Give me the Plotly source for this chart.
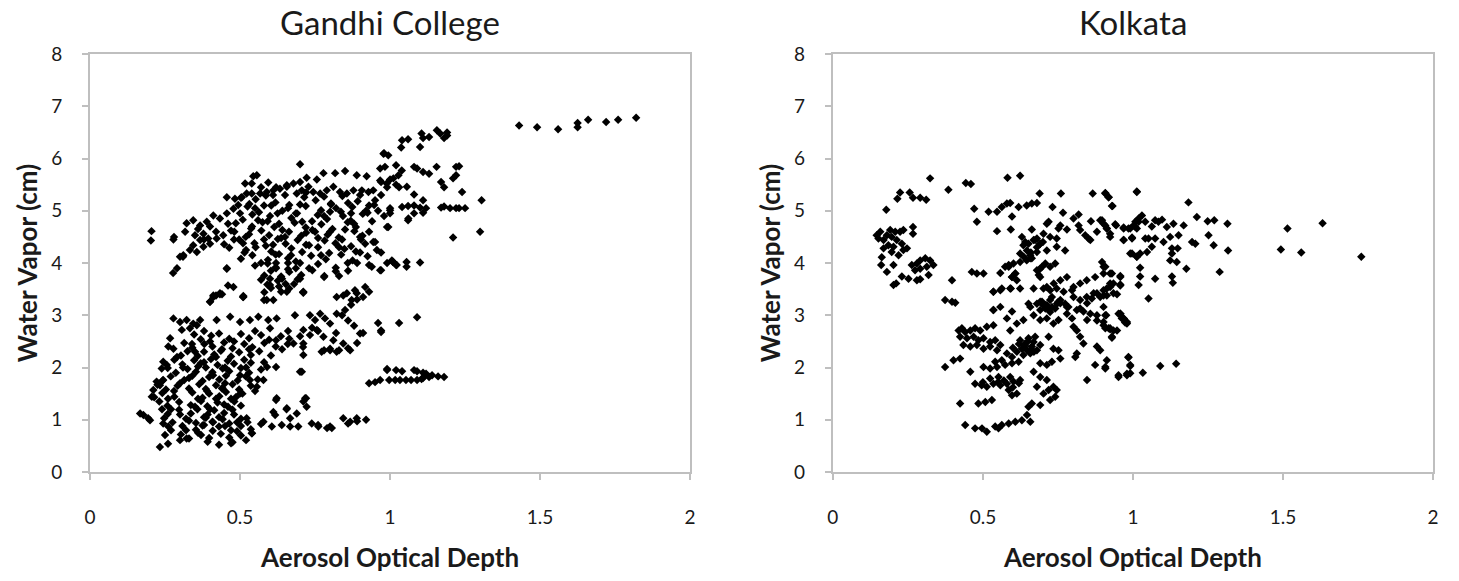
import plotly.graph_objects as go

# ---------------- Gandhi College (AOD, water vapour cm) ----------------
gc_upper_band = [
    [0.205, 4.61], [0.203, 4.43], [0.278, 4.45], [0.28, 4.5], [0.277, 3.81], [0.29, 3.9], [0.31, 4.12],
    [0.70, 5.89], [0.544, 5.66], [0.556, 5.68], [0.517, 5.52], [0.539, 5.52], [0.594, 5.54],
    [0.656, 5.49], [0.678, 5.52], [0.70, 5.55], [0.722, 5.63], [0.756, 5.6], [0.778, 5.72], [0.817, 5.72],
    [0.85, 5.76], [0.889, 5.68], [0.922, 5.66], [0.967, 5.81], [0.983, 5.84], [0.978, 6.09], [0.994, 6.06],
    [1.02, 5.87], [1.039, 5.77], [1.028, 5.68], [0.967, 5.58], [0.989, 5.52], [1.011, 5.62], [1.056, 5.46],
    [1.0, 5.01], [0.994, 4.69], [1.061, 4.85],
    [0.456, 5.26], [0.483, 5.23], [0.506, 5.26], [0.522, 5.33], [0.539, 5.33], [0.567, 5.33], [0.589, 5.36],
    [0.611, 5.39], [0.633, 5.42], [0.656, 5.46], [0.689, 5.33], [0.706, 5.39], [0.728, 5.46], [0.744, 5.36],
    [0.767, 5.33], [0.789, 5.39], [0.811, 5.46], [0.833, 5.36], [0.856, 5.33], [0.878, 5.39], [0.906, 5.39],
    [0.928, 5.36], [0.944, 5.39],
    [0.322, 4.76], [0.344, 4.82], [0.367, 4.72], [0.389, 4.79], [0.411, 4.91], [0.433, 4.85], [0.456, 4.95],
    [0.478, 5.04], [0.494, 5.11],
    [0.30, 4.12], [0.311, 4.15], [0.333, 4.25], [0.356, 4.21], [0.378, 4.31], [0.40, 4.37], [0.422, 4.47],
    [0.444, 4.53], [0.317, 4.6], [0.35, 4.53], [0.378, 4.56], [0.394, 4.47], [0.367, 4.44], [0.344, 4.34],
    [0.503, 5.25], [0.531, 5.13], [0.552, 5.22], [0.586, 5.29], [0.618, 5.16], [0.664, 5.11], [0.714, 5.26],
    [0.752, 5.2], [0.803, 5.14], [0.841, 5.28], [0.892, 5.18], [0.61, 5.3], [0.70, 5.12], [0.78, 5.27],
    [0.525, 5.08], [0.563, 4.97], [0.604, 5.1], [0.641, 5.0], [0.686, 4.95], [0.719, 5.09], [0.77, 5.01],
    [0.803, 5.12], [0.836, 4.98], [0.874, 5.07], [0.925, 4.96], [0.947, 5.11],
    [0.509, 4.83], [0.541, 4.93], [0.592, 4.8], [0.625, 4.95], [0.671, 4.86], [0.707, 4.79], [0.759, 4.92],
    [0.79, 4.84], [0.843, 4.9], [0.869, 4.81], [0.909, 4.94],
    [0.486, 4.76], [0.537, 4.66], [0.575, 4.78], [0.614, 4.69], [0.641, 4.63], [0.682, 4.77], [0.719, 4.68],
    [0.771, 4.74], [0.808, 4.65], [0.859, 4.78], [0.886, 4.69],
    [0.481, 4.6], [0.519, 4.5], [0.571, 4.62], [0.597, 4.53], [0.637, 4.48], [0.663, 4.6], [0.704, 4.52],
    [0.741, 4.63], [0.792, 4.54], [0.829, 4.49], [0.881, 4.61], [0.908, 4.52],
    [0.447, 4.36], [0.497, 4.45], [0.548, 4.38], [0.586, 4.33], [0.626, 4.46], [0.652, 4.37], [0.692, 4.44],
    [0.73, 4.34], [0.782, 4.43], [0.818, 4.38], [0.87, 4.32], [0.903, 4.45],
    [0.464, 4.29], [0.515, 4.2], [0.552, 4.3], [0.604, 4.22], [0.63, 4.17], [0.671, 4.28], [0.707, 4.21],
    [0.76, 4.3], [0.797, 4.19], [0.848, 4.27], [0.886, 4.22],
    [0.503, 4.08], [0.541, 4.15], [0.593, 4.06], [0.619, 4.16], [0.66, 4.09], [0.686, 4.03], [0.737, 4.14],
    [0.786, 4.07], [0.837, 4.16], [0.875, 4.05], [0.925, 4.13],
    [0.592, 3.99], [0.619, 3.92], [0.66, 4.0], [0.686, 3.9], [0.76, 3.98], [0.819, 3.91], [0.859, 4.0],
    [0.456, 3.89],
    [0.581, 3.76], [0.603, 3.85], [0.637, 3.74], [0.664, 3.83], [0.704, 3.77], [0.741, 3.86], [0.781, 3.75],
    [0.819, 3.84], [0.939, 3.93], [0.967, 3.86],
    [0.57, 3.68], [0.591, 3.59], [0.626, 3.66], [0.652, 3.6], [0.692, 3.69],
    [0.581, 3.44], [0.603, 3.52], [0.637, 3.45], [0.664, 3.51],
    [0.62, 4.0], [0.64, 3.7], [0.6, 3.58], [0.66, 3.88], [0.58, 4.45], [0.72, 4.58], [0.69, 4.95],
    [0.76, 4.48], [0.85, 4.64], [0.87, 4.95], [0.8, 4.98], [0.74, 4.8], [0.56, 4.82], [0.53, 4.55],
    [0.65, 5.3], [0.55, 5.05], [0.47, 4.62], [0.51, 4.38], [0.83, 4.3], [0.9, 4.2], [0.77, 4.15],
    [0.73, 3.9], [0.55, 3.95],
    [0.6, 4.9], [0.63, 4.75], [0.65, 4.5], [0.61, 4.35], [0.67, 4.15], [0.62, 3.9], [0.6, 3.7], [0.63, 3.55],
    [0.7, 4.0], [0.72, 4.35], [0.75, 4.6], [0.78, 4.9], [0.82, 5.05], [0.86, 5.15], [0.88, 4.75], [0.84, 4.45],
    [0.8, 4.6], [0.9, 5.3], [0.92, 5.0], [0.58, 5.1], [0.54, 4.7], [0.5, 4.95], [0.46, 4.75], [0.42, 4.6],
    [0.38, 4.45], [0.36, 4.65], [0.4, 4.7], [0.48, 4.45], [0.52, 4.25], [0.57, 4.0], [0.68, 3.6], [0.7, 3.7],
    [0.66, 5.05], [0.72, 5.35], [0.62, 5.45], [0.57, 5.45],
    [0.411, 3.38], [0.433, 3.42], [0.478, 3.54], [0.511, 3.35], [0.711, 3.45], [0.822, 3.35], [0.856, 3.42],
    [0.883, 3.48], [0.917, 3.54],
    [1.006, 4.05], [1.022, 3.96], [0.944, 4.4], [0.956, 4.25], [0.9, 4.5], [0.917, 4.37],
    [0.93, 5.1], [0.95, 5.2], [0.97, 5.3], [0.99, 5.45], [0.96, 5.0], [0.94, 4.8], [0.98, 4.9], [1.0, 5.6],
    [1.02, 5.5], [0.97, 5.55], [0.93, 4.6], [0.95, 4.4], [0.97, 4.2], [0.99, 4.0],
    [0.456, 3.9], [0.46, 3.57], [0.40, 3.26], [0.42, 3.38], [0.44, 3.40], [0.51, 3.35], [0.58, 3.29],
    [0.71, 3.44], [0.78, 3.73], [0.83, 3.75], [0.86, 3.85], [0.89, 4.0], [0.93, 3.96], [1.01, 4.02],
]

gc_upper_right = [
    [1.10, 6.22], [1.04, 6.35], [1.06, 6.37], [1.105, 6.48], [1.11, 6.39], [1.13, 6.41], [1.156, 6.54],
    [1.167, 6.48], [1.18, 6.39], [1.19, 6.44], [1.19, 6.5], [1.037, 6.21], [0.98, 6.1],
    [1.08, 5.84], [1.09, 5.81], [1.11, 5.74], [1.13, 5.71], [1.155, 5.84], [1.22, 5.84], [1.23, 5.85],
    [1.22, 5.68], [1.21, 5.62], [1.17, 5.55], [1.18, 5.45], [1.24, 5.36], [1.03, 5.45], [1.08, 5.31],
    [1.11, 5.2], [1.305, 5.2],
    [1.04, 5.07], [1.06, 5.09], [1.08, 5.1], [1.1, 5.06], [1.12, 5.05], [1.17, 5.06], [1.18, 5.08],
    [1.2, 5.05], [1.22, 5.05], [1.23, 5.05], [1.25, 5.05], [1.08, 4.95], [1.11, 4.96], [1.0, 5.05],
    [1.0, 4.95], [1.06, 4.82], [0.99, 4.69], [1.21, 4.49], [1.30, 4.6],
    [1.01, 4.02], [1.02, 3.96], [1.055, 4.02], [1.055, 3.93], [1.10, 4.01], [0.97, 3.86],
    [1.43, 6.63], [1.49, 6.60], [1.56, 6.56], [1.625, 6.68], [1.625, 6.6], [1.66, 6.74], [1.72, 6.70],
    [1.76, 6.74], [1.82, 6.78],
]

gc_lower_band = [
    [0.4, 3.26], [0.411, 3.35], [0.433, 3.40], [0.511, 3.37], [0.589, 3.29], [0.611, 3.29], [0.656, 3.45],
    [0.711, 3.43],
    [0.278, 2.94], [0.3, 2.87], [0.322, 2.91], [0.344, 2.84], [0.367, 2.91], [0.306, 2.72], [0.333, 2.75],
    [0.356, 2.81], [0.422, 2.91], [0.467, 2.97], [0.5, 2.87], [0.533, 2.91], [0.561, 2.97], [0.594, 2.91],
    [0.622, 2.94], [0.683, 3.0], [0.733, 3.0], [0.75, 2.91], [0.767, 3.03], [0.783, 2.94], [0.8, 2.84],
    [0.822, 3.03], [0.844, 3.38], [0.872, 3.29], [0.889, 3.42],
    [0.711, 2.72], [0.733, 2.62], [0.756, 2.72], [0.778, 2.59], [0.811, 2.52], [0.844, 2.46], [0.867, 2.33],
    [0.822, 2.3], [0.8, 2.36], [0.772, 2.3], [0.678, 2.46], [0.711, 2.46], [0.711, 2.24], [0.706, 1.92],
    [0.267, 2.56], [0.261, 2.4], [0.278, 2.36], [0.244, 2.11], [0.256, 2.05], [0.239, 1.98],
    [0.222, 1.73], [0.233, 1.66], [0.244, 1.76], [0.211, 1.57], [0.206, 1.44],
    [0.167, 1.12], [0.178, 1.09], [0.194, 1.03], [0.2, 0.99], [0.244, 0.93], [0.261, 0.87], [0.25, 0.71],
    [0.233, 0.48], [0.26, 0.54], [0.3, 0.61], [0.322, 0.64],
    [0.347, 2.63], [0.369, 2.54], [0.404, 2.61], [0.464, 2.55], [0.503, 2.64], [0.53, 2.56], [0.57, 2.62],
    [0.597, 2.53], [0.636, 2.6], [0.664, 2.55],
    [0.314, 2.47], [0.341, 2.38], [0.381, 2.45], [0.408, 2.4], [0.447, 2.48], [0.475, 2.37], [0.514, 2.45],
    [0.541, 2.39], [0.581, 2.47], [0.619, 2.4], [0.659, 2.45],
    [0.303, 2.23], [0.325, 2.31], [0.359, 2.22], [0.38, 2.3], [0.414, 2.25], [0.436, 2.32], [0.47, 2.21],
    [0.497, 2.29], [0.536, 2.24], [0.564, 2.31], [0.603, 2.23],
    [0.281, 2.15], [0.308, 2.06], [0.347, 2.14], [0.369, 2.08], [0.403, 2.16], [0.425, 2.05], [0.459, 2.13],
    [0.48, 2.07], [0.514, 2.15], [0.536, 2.09],
    [0.259, 1.99], [0.286, 1.9], [0.325, 1.97], [0.353, 1.92], [0.386, 2.0], [0.408, 1.91], [0.442, 1.98],
    [0.464, 1.93], [0.503, 1.99], [0.53, 1.9], [0.57, 1.96],
    [0.242, 1.75], [0.269, 1.83], [0.314, 1.76], [0.341, 1.84], [0.375, 1.74], [0.397, 1.82], [0.431, 1.77],
    [0.453, 1.84], [0.492, 1.75], [0.519, 1.83], [0.559, 1.77],
    [0.225, 1.67], [0.253, 1.58], [0.292, 1.65], [0.33, 1.6], [0.364, 1.68], [0.386, 1.59], [0.42, 1.66],
    [0.441, 1.61], [0.475, 1.68], [0.497, 1.58], [0.536, 1.65],
    [0.214, 1.43], [0.241, 1.51], [0.281, 1.44], [0.341, 1.52], [0.375, 1.42], [0.397, 1.5], [0.431, 1.45],
    [0.453, 1.53], [0.486, 1.43], [0.508, 1.5],
    [0.231, 1.35], [0.258, 1.27], [0.297, 1.34], [0.336, 1.28], [0.37, 1.36], [0.391, 1.26], [0.425, 1.33],
    [0.447, 1.29], [0.481, 1.35], [0.503, 1.27],
    [0.259, 1.11], [0.297, 1.19], [0.336, 1.12], [0.358, 1.2], [0.392, 1.1], [0.414, 1.18], [0.447, 1.13],
    [0.475, 1.19],
    [0.247, 1.03], [0.275, 0.95], [0.32, 1.02], [0.353, 0.94], [0.386, 1.04], [0.408, 0.96], [0.442, 1.01],
    [0.464, 0.93], [0.503, 1.02], [0.525, 0.95],
    [0.27, 0.8], [0.308, 0.88], [0.353, 0.81], [0.375, 0.89], [0.409, 0.79], [0.43, 0.87], [0.47, 0.8],
    [0.503, 0.88], [0.536, 0.82],
    [0.303, 0.72], [0.33, 0.64], [0.37, 0.71], [0.397, 0.65], [0.436, 0.73], [0.464, 0.66], [0.503, 0.7],
    [0.392, 0.58], [0.43, 0.52], [0.475, 0.57],
    [0.36, 2.02], [0.42, 2.2], [0.45, 1.7], [0.39, 1.55], [0.47, 1.4], [0.35, 1.25], [0.43, 1.05],
    [0.38, 0.9], [0.5, 1.85], [0.53, 2.35], [0.3, 1.7], [0.27, 1.2], [0.4, 2.5], [0.62, 2.52], [0.58, 2.1],
    [0.33, 0.98], [0.49, 0.78], [0.44, 2.35], [0.55, 1.55],
    [0.35, 2.3], [0.38, 2.1], [0.41, 1.85], [0.44, 1.6], [0.46, 1.25], [0.4, 1.2], [0.36, 1.4], [0.33, 1.8],
    [0.31, 2.0], [0.28, 1.55], [0.3, 1.1], [0.32, 0.8], [0.36, 0.75], [0.41, 0.95], [0.45, 0.88], [0.48, 1.1],
    [0.5, 1.5], [0.52, 2.0], [0.48, 2.5], [0.43, 2.65], [0.38, 2.7], [0.34, 2.45], [0.26, 1.4], [0.24, 1.2],
    [0.29, 2.2], [0.55, 2.7], [0.6, 2.75], [0.66, 2.7], [0.7, 2.6], [0.64, 2.35], [0.45, 2.0], [0.42, 1.4],
    [0.38, 1.05], [0.49, 0.95],
    [0.622, 1.41], [0.656, 1.22], [0.611, 1.15], [0.617, 1.09], [0.667, 1.03], [0.689, 1.12], [0.711, 1.35],
    [0.722, 1.25], [0.717, 1.41], [0.578, 0.96], [0.606, 0.87], [0.639, 0.9], [0.667, 0.87], [0.694, 0.87],
    [0.739, 0.93], [0.761, 0.87], [0.8, 0.87], [0.806, 0.84], [0.844, 1.03], [0.867, 0.96], [0.889, 1.03],
    [0.522, 1.03], [0.539, 0.74], [0.556, 1.63], [0.578, 1.76], [0.533, 1.76],
    [0.70, 1.92], [0.62, 1.38], [0.655, 1.2], [0.72, 1.41], [0.76, 0.9], [0.79, 0.84], [0.86, 0.93],
    [0.89, 0.97], [0.92, 1.0], [0.57, 0.92], [0.54, 0.74], [0.52, 0.61], [0.47, 0.55],
    [0.59, 2.01], [0.62, 2.01], [0.78, 2.33], [0.80, 2.33], [0.83, 2.33], [0.71, 2.39], [0.74, 2.76], [0.76, 2.7],
    [0.82, 2.66], [0.86, 2.37], [0.89, 2.47], [0.91, 2.66], [0.96, 2.85], [0.97, 2.71], [1.03, 2.85],
    [0.93, 3.45], [0.91, 3.35], [0.89, 3.3], [0.87, 3.2], [0.85, 3.1], [0.84, 3.0], [0.86, 2.9], [0.88, 2.8],
    [0.9, 2.65], [0.97, 2.68], [1.09, 2.96],
]

gc_lower_right = [
    [0.93, 1.7], [0.95, 1.72], [0.967, 1.76], [0.997, 1.76], [1.017, 1.76], [1.033, 1.76], [1.053, 1.76],
    [1.07, 1.76], [1.09, 1.76], [1.105, 1.78], [1.11, 1.8], [1.13, 1.82], [1.16, 1.83], [1.18, 1.82],
    [0.99, 1.95], [1.02, 1.95], [1.04, 1.93], [1.08, 1.95], [1.09, 1.93], [1.11, 1.9], [1.12, 1.88],
    [1.14, 1.85], [0.99, 1.97],
]

# ---------------- Kolkata (AOD, water vapour cm) ----------------
kol_west = [
    [0.324, 5.62], [0.224, 5.35], [0.215, 5.23], [0.256, 5.35], [0.267, 5.25], [0.291, 5.25], [0.311, 5.21],
    [0.178, 5.02], [0.385, 5.40], [0.443, 5.53], [0.46, 5.51], [0.471, 5.04], [0.48, 4.79],
    [0.146, 4.53], [0.158, 4.6], [0.152, 4.47], [0.169, 4.44], [0.18, 4.53], [0.191, 4.63], [0.196, 4.5],
    [0.208, 4.6], [0.213, 4.44], [0.224, 4.6], [0.235, 4.63], [0.23, 4.37], [0.247, 4.28], [0.235, 4.25],
    [0.202, 4.31], [0.185, 4.34], [0.169, 4.28], [0.196, 4.21], [0.219, 4.15], [0.267, 4.69], [0.267, 4.56],
    [0.163, 4.11], [0.161, 3.96], [0.18, 3.83], [0.202, 3.96],
    [0.263, 3.96], [0.28, 3.99], [0.291, 4.05], [0.308, 4.09], [0.324, 4.05], [0.335, 3.96], [0.313, 3.93],
    [0.291, 3.89], [0.274, 3.86], [0.319, 3.77], [0.23, 3.74], [0.252, 3.7], [0.28, 3.67], [0.291, 3.69],
    [0.202, 3.58], [0.211, 3.61], [0.397, 3.67], [0.463, 3.83], [0.48, 3.8], [0.502, 3.8],
    [0.374, 3.29], [0.397, 3.26], [0.408, 3.24],
]

kol_core = [
    [0.535, 3.45], [0.558, 3.48], [0.535, 3.1], [0.558, 3.81], [0.593, 3.51],
    [0.582, 5.63], [0.624, 5.67], [0.547, 4.98], [0.563, 5.07], [0.58, 5.14], [0.591, 5.15], [0.597, 4.89],
    [0.619, 5.07], [0.519, 4.98], [0.646, 5.1], [0.663, 5.14], [0.68, 5.15], [0.689, 5.33], [0.76, 5.33],
    [0.732, 5.07], [0.767, 4.96], [0.802, 4.85], [0.819, 4.93], [0.866, 5.33], [0.908, 5.34], [0.919, 5.26],
    [0.932, 5.09], [1.013, 5.36],
    [0.547, 4.61], [0.593, 4.64], [0.63, 4.5], [0.641, 4.4], [0.663, 4.64], [0.669, 4.44], [0.68, 4.47],
    [0.691, 4.37], [0.702, 4.56], [0.713, 4.75], [0.719, 4.79], [0.724, 4.5], [0.752, 4.66], [0.758, 4.72],
    [0.78, 4.64], [0.819, 4.72], [0.824, 4.63], [0.841, 4.53], [0.852, 4.47], [0.858, 4.44], [0.891, 4.82],
    [0.902, 4.75], [0.913, 4.66], [0.924, 4.5], [0.944, 4.72], [0.969, 4.66], [0.991, 4.66], [1.008, 4.69],
    [1.019, 4.79], [0.997, 4.47], [0.969, 4.44], [0.991, 4.18], [1.013, 4.12],
    [0.574, 3.93], [0.586, 3.96], [0.602, 3.99], [0.624, 4.02], [0.646, 4.05], [0.663, 4.09], [0.636, 4.12],
    [0.658, 4.15], [0.68, 4.21], [0.697, 3.93], [0.708, 3.99], [0.724, 3.93], [0.741, 3.99], [0.686, 3.77],
    [0.691, 3.73], [0.597, 3.73], [0.608, 3.8], [0.613, 3.67],
    [0.624, 3.51], [0.669, 3.51], [0.713, 3.54], [0.736, 3.61], [0.758, 3.67], [0.78, 3.73], [0.802, 3.54],
    [0.824, 3.61], [0.846, 3.67], [0.874, 3.73], [0.902, 3.93], [0.924, 3.8], [0.935, 3.61], [0.958, 3.73],
    [0.958, 3.57],
    [0.68, 3.22], [0.697, 3.26], [0.713, 3.19], [0.73, 3.16], [0.691, 3.1], [0.708, 3.13], [0.724, 3.06],
    [0.747, 3.22], [0.758, 3.29], [0.774, 3.22], [0.785, 3.16], [0.802, 3.35], [0.824, 3.29], [0.846, 3.35],
    [0.869, 3.42], [0.891, 3.35], [0.913, 3.38], [0.935, 3.42], [0.813, 3.1], [0.835, 3.07], [0.858, 3.03],
    [0.88, 2.9], [0.902, 2.87], [0.958, 3.03], [0.969, 2.94], [0.98, 2.84], [0.652, 3.22], [0.658, 3.16],
    [0.908, 3.0], [0.924, 2.75],
    [0.374, 2.01], [0.402, 2.14], [0.424, 2.17], [0.458, 1.92], [0.424, 1.31], [0.441, 0.9],
    [0.419, 2.71], [0.43, 2.75], [0.441, 2.68], [0.458, 2.71], [0.474, 2.75], [0.491, 2.71], [0.513, 2.78],
    [0.535, 2.81], [0.424, 2.59], [0.447, 2.56], [0.469, 2.59], [0.485, 2.52], [0.502, 2.56], [0.524, 2.49],
    [0.541, 2.52], [0.435, 2.43], [0.458, 2.4], [0.48, 2.43], [0.502, 2.36], [0.524, 2.4], [0.547, 2.33],
    [0.558, 2.43],
    [0.502, 2.01], [0.524, 1.98], [0.547, 2.01], [0.574, 2.05], [0.597, 2.08], [0.619, 2.11],
    [0.624, 2.52], [0.641, 2.46], [0.652, 2.56], [0.663, 2.4], [0.647, 2.33], [0.63, 2.36], [0.669, 2.49],
    [0.658, 2.27], [0.635, 2.24], [0.613, 2.3], [0.68, 2.33], [0.674, 2.59], [0.691, 2.43],
    [0.64, 2.42], [0.66, 2.35], [0.65, 2.5], [0.62, 2.45], [0.67, 2.3], [0.6, 2.38],
    [0.58, 2.27], [0.597, 2.2], [0.563, 2.14], [0.541, 2.11],
    [0.591, 2.71], [0.613, 2.84], [0.635, 2.91], [0.58, 2.94], [0.597, 3.07], [0.535, 3.1], [0.558, 3.16],
    [0.535, 3.45], [0.563, 3.51], [0.591, 3.51], [0.597, 3.73], [0.608, 3.8], [0.586, 3.93],
    [0.624, 4.18], [0.647, 4.24], [0.658, 4.09], [0.635, 4.34], [0.652, 4.37], [0.674, 4.44], [0.691, 4.37],
    [0.713, 4.24], [0.746, 4.31], [0.746, 4.47], [0.774, 4.24], [0.68, 3.86], [0.691, 3.89],
    [0.68, 4.3], [0.7, 4.4], [0.66, 4.2], [0.86, 4.8], [0.88, 4.6],
    [0.702, 3.51], [0.724, 3.48], [0.746, 3.51], [0.769, 3.45], [0.797, 3.48],
    [0.691, 3.26], [0.708, 3.19], [0.724, 3.29], [0.741, 3.13], [0.758, 3.23], [0.78, 3.16],
    [0.7, 3.2], [0.72, 3.1], [0.75, 3.25], [0.73, 3.35],
    [0.669, 3.0], [0.691, 2.91], [0.713, 2.94], [0.735, 2.84], [0.752, 2.91],
    [0.719, 2.59], [0.735, 2.36], [0.752, 2.33], [0.758, 2.17], [0.73, 2.11], [0.713, 2.05], [0.691, 2.08],
    [0.669, 1.92], [0.691, 1.82], [0.713, 1.76], [0.735, 1.63], [0.746, 1.57], [0.719, 1.57], [0.741, 1.44],
    [0.724, 1.38], [0.702, 1.5], [0.68, 1.63], [0.691, 1.28], [0.663, 1.31], [0.652, 1.25],
    [0.474, 1.69], [0.496, 1.66], [0.513, 1.63], [0.535, 1.69], [0.558, 1.66], [0.58, 1.69], [0.602, 1.73],
    [0.624, 1.76], [0.524, 1.79], [0.552, 1.82], [0.591, 1.82], [0.613, 1.5], [0.597, 1.47], [0.586, 1.57],
    [0.55, 1.72], [0.57, 1.75], [0.6, 1.62], [0.62, 1.7], [0.5, 1.72],
    [0.485, 1.31], [0.508, 1.34], [0.53, 1.38],
    [0.474, 0.835], [0.497, 0.835], [0.513, 0.77], [0.541, 0.87], [0.563, 0.9], [0.586, 0.93], [0.608, 0.96],
    [0.63, 0.99], [0.647, 1.09], [0.658, 0.96], [0.552, 0.835],
    [0.847, 1.76], [0.874, 2.05], [0.908, 2.01], [0.913, 2.14], [0.952, 1.85], [0.98, 1.88], [0.991, 2.05],
    [0.985, 2.2],
    [0.847, 2.91], [0.88, 3.0], [0.902, 2.81], [0.919, 2.75], [0.935, 2.71], [0.93, 2.59], [0.88, 2.4],
    [0.891, 2.33], [0.958, 3.03], [0.969, 2.94], [0.98, 2.87], [0.802, 2.78], [0.813, 2.71], [0.824, 2.59],
    [0.835, 2.46], [0.808, 2.2], [0.813, 2.27],
    [0.78, 3.03], [0.797, 2.94], [0.824, 3.13], [0.847, 3.23], [0.863, 3.32], [0.88, 3.42], [0.902, 3.48],
    [0.924, 3.54],
]

kol_east = [
    [0.908, 5.33], [0.919, 5.26], [0.93, 5.09], [1.013, 5.37], [1.185, 5.16],
    [0.897, 4.82], [0.908, 4.72], [0.913, 4.66], [0.924, 4.56], [0.941, 4.74], [0.969, 4.68], [0.985, 4.66],
    [1.002, 4.72], [1.008, 4.79], [1.019, 4.85], [1.03, 4.91], [1.013, 4.66], [1.041, 4.79], [1.063, 4.7],
    [1.074, 4.82], [1.085, 4.79], [1.097, 4.83], [1.113, 4.69], [1.135, 4.75], [1.152, 4.53], [1.169, 4.72],
    [1.213, 4.88], [1.249, 4.8], [1.271, 4.82], [1.315, 4.75], [1.252, 4.53], [1.269, 4.34], [1.317, 4.24],
    [1.197, 4.4], [1.208, 4.37], [0.969, 4.44], [0.997, 4.49], [1.041, 4.47], [1.052, 4.47], [1.074, 4.47],
    [1.063, 4.31], [1.047, 4.21], [1.024, 4.18], [0.997, 4.18], [1.013, 4.12], [1.102, 4.4], [1.124, 4.5],
    [1.13, 4.28], [1.13, 4.18], [1.146, 4.02], [1.124, 4.05], [1.149, 4.28], [1.024, 3.91], [1.024, 3.74],
    [1.019, 3.58], [1.074, 3.7], [1.13, 3.74], [1.133, 3.62], [1.178, 3.89], [1.289, 3.83], [1.052, 3.32],
    [0.897, 4.02], [0.908, 3.93], [0.902, 3.8], [0.93, 3.8], [0.958, 3.75], [0.958, 3.59], [0.924, 3.61],
    [0.913, 3.51], [0.902, 3.38], [0.947, 3.4], [0.902, 3.16], [0.911, 3.0], [0.952, 3.03], [0.963, 2.94],
    [0.974, 2.86], [0.908, 2.75], [0.924, 2.73], [0.947, 2.71], [0.93, 2.57],
    [0.908, 1.98], [0.952, 1.82], [0.98, 1.85], [0.991, 1.89], [0.985, 2.19], [0.991, 2.03], [1.033, 1.9],
    [1.091, 2.03], [1.144, 2.07],
    [1.493, 4.26], [1.515, 4.66], [1.561, 4.2], [1.632, 4.76], [1.761, 4.12],
]

gc_points = gc_upper_band + gc_upper_right + gc_lower_band + gc_lower_right
kol_points = kol_west + kol_core + kol_east
gc_aod = [p[0] for p in gc_points]
gc_wv = [p[1] for p in gc_points]
kol_aod = [p[0] for p in kol_points]
kol_wv = [p[1] for p in kol_points]

titles = ["Gandhi College", "Kolkata"]
x_title = "Aerosol Optical Depth"
y_title = "Water Vapor (cm)"
x_ticks = [0, 0.5, 1, 1.5, 2]
y_ticks = [0, 1, 2, 3, 4, 5, 6, 7, 8]

W, H = 1459, 581
FONT = "Lato, Carlito, Calibri, 'Open Sans', sans-serif"
GRAY = "#BFBFBF"
TXT = "#1a1a1a"

# plot-area pixel geometry
ML, MR, MT, MB = 90, 26.3, 54, 109
PW = W - ML - MR          # 1342.7
PH = H - MT - MB          # 418
panels_px = [(90, 690), (832.7, 1432.7)]
doms = [[(a - ML) / PW, (b - ML) / PW] for a, b in panels_px]

marker = dict(symbol="diamond", size=6.5, color="black", line=dict(width=0))

fig = go.Figure()
fig.add_trace(go.Scatter(x=gc_aod, y=gc_wv, mode="markers", marker=marker,
                         xaxis="x", yaxis="y", showlegend=False))
fig.add_trace(go.Scatter(x=kol_aod, y=kol_wv, mode="markers", marker=marker,
                         xaxis="x2", yaxis="y2", showlegend=False))

def xax(i, anchor):
    return dict(domain=doms[i], range=[0, 2], anchor=anchor,
                tickvals=x_ticks, ticktext=[f"{v:g}" for v in x_ticks],
                showgrid=False, zeroline=False, showline=True, mirror=True,
                linecolor=GRAY, linewidth=2, ticks="outside", ticklen=6, tickcolor=GRAY,
                tickwidth=2, ticklabelstandoff=21,
                tickfont=dict(family=FONT, size=19, color=TXT),
                title=dict(text=f"<b>{x_title}</b>", font=dict(family=FONT, size=26, color=TXT),
                           standoff=22),
                fixedrange=True)

def yax(anchor):
    return dict(domain=[0, 1], range=[0, 8], tickvals=y_ticks, anchor=anchor,
                showgrid=False, zeroline=False, showline=True, mirror=True,
                linecolor=GRAY, linewidth=2, ticks="outside", ticklen=6, tickcolor=GRAY,
                tickwidth=2, ticklabelstandoff=16,
                tickfont=dict(family=FONT, size=19, color=TXT),
                title=dict(text=f"<b>{y_title}</b>", font=dict(family=FONT, size=26, color=TXT),
                           standoff=6),
                fixedrange=True)

title_y = (H - MB - 22) / PH
fig.update_layout(
    width=W, height=H,
    margin=dict(l=ML, r=MR, t=MT, b=MB, autoexpand=False),
    paper_bgcolor="white", plot_bgcolor="white",
    xaxis=xax(0, "y"), yaxis=yax("x"),
    xaxis2=xax(1, "y2"), yaxis2=yax("x2"),
    annotations=[
        dict(text=titles[i], x=(doms[i][0] + doms[i][1]) / 2, y=title_y, xref="paper", yref="paper",
             showarrow=False, xanchor="center", yanchor="middle",
             font=dict(family=FONT, size=33, color=TXT))
        for i in range(2)
    ],
)

# remove the browser's default 8px body margin so the figure sits at the page origin
fig.write_html("out.html", config={"displayModeBar": False},
               post_script="document.body.style.margin='0';")
